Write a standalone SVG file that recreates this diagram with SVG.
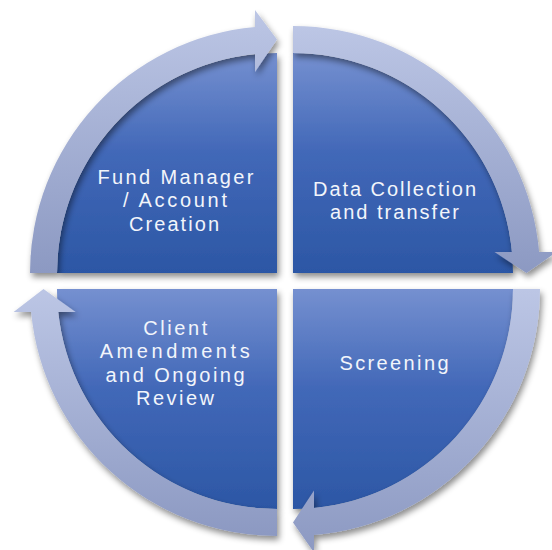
<svg xmlns="http://www.w3.org/2000/svg" width="552" height="550" viewBox="0 0 552 550">
<defs>
<linearGradient id="gBlue" x1="0" y1="0" x2="0" y2="1">
<stop offset="0" stop-color="#7590d0"/>
<stop offset="0.45" stop-color="#4268b8"/>
<stop offset="1" stop-color="#2c57a5"/>
</linearGradient>
<linearGradient id="gBand" x1="0" y1="0" x2="0" y2="1">
<stop offset="0" stop-color="#bcc6e5"/>
<stop offset="1" stop-color="#8c99c2"/>
</linearGradient>
<filter id="sh" x="-10%" y="-10%" width="125%" height="125%">
<feDropShadow dx="2" dy="4" stdDeviation="3" flood-color="#000" flood-opacity="0.45"/>
</filter>
</defs>
<style>
.q{fill:url(#gBlue);filter:url(#sh)}
.band{fill:url(#gBand);filter:url(#sh)}
.t{font-family:"Liberation Sans",Arial,sans-serif;font-size:20px;fill:#f2f5fb;text-anchor:middle}
</style>
<rect width="552" height="550" fill="#ffffff"/>
<g id="node-fund-manager">
<path class="q" d="M277,273 L57,273 A220,220 0 0 1 277,53 Z"/>
</g>
<g id="node-data-collection">
<path class="q" d="M293,273 L293,53 A220,220 0 0 1 513,273 Z"/>
</g>
<g id="node-screening">
<path class="q" d="M293,289 L513,289 A220,220 0 0 1 293,509 Z"/>
</g>
<g id="node-client-amendments">
<path class="q" d="M277,289 L277,509 A220,220 0 0 1 57,289 Z"/>
</g>
<g id="connectors">
<path class="band" d="M30,273 A247,247 0 0 1 255,27 L255,10 L277,39.5 L255,72 L255,54 A220,220 0 0 0 57,273 Z"/>
<path class="band" d="M293,26 A247,247 0 0 1 539.1,252 L556.5,252 L526.5,273 L494.5,252 L512,252 A220,220 0 0 0 293,53 Z"/>
<path class="band" d="M540,289 A247,247 0 0 1 314,535.1 L314,552.5 L293,522.5 L314,490.5 L314,508 A220,220 0 0 0 513,289 Z"/>
<path class="band" d="M277,536 A247,247 0 0 1 31.1,312 L13.6,312 L43.5,289 L75.6,312 L58.2,312 A220,220 0 0 0 277,509 Z"/>
</g>
<g id="labels">
<text class="t" x="175.5" y="184" textLength="156" lengthAdjust="spacing">Fund Manager</text>
<text class="t" x="175" y="207" textLength="104" lengthAdjust="spacing">/ Account</text>
<text class="t" x="174" y="230.5" textLength="90" lengthAdjust="spacing">Creation</text>
<text class="t" x="394.5" y="196" textLength="163" lengthAdjust="spacing">Data Collection</text>
<text class="t" x="394.5" y="218.5" textLength="129" lengthAdjust="spacing">and transfer</text>
<text class="t" x="394" y="370" textLength="109" lengthAdjust="spacing">Screening</text>
<text class="t" x="175.3" y="335" textLength="64" lengthAdjust="spacing">Client</text>
<text class="t" x="174.7" y="358.3" textLength="150" lengthAdjust="spacing">Amendments</text>
<text class="t" x="175" y="381.7" textLength="139" lengthAdjust="spacing">and Ongoing</text>
<text class="t" x="175" y="404.5" textLength="78" lengthAdjust="spacing">Review</text>
</g>
</svg>
